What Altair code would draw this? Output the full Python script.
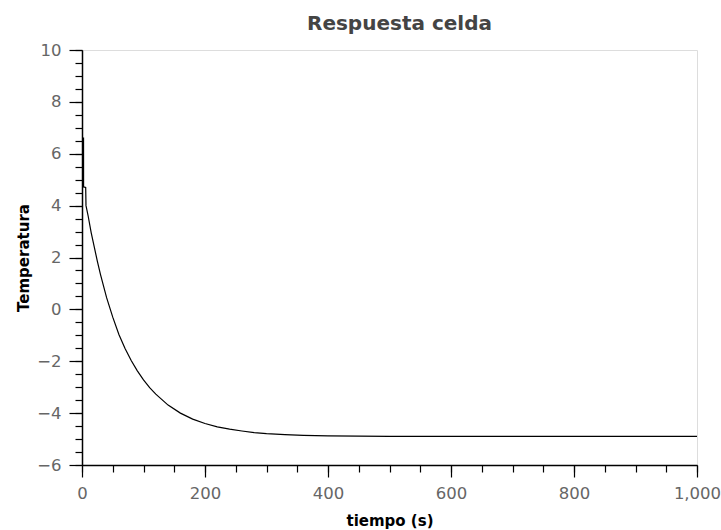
import altair as alt
import pandas as pd

# Values
tiempo = [0, 2.5, 2.6, 6, 6.5, 10, 15, 20, 25, 30, 40, 50, 60, 70, 80, 90, 100,
          110, 120, 140, 160, 180, 200, 220, 240, 260, 280, 300, 330, 360, 400,
          500, 600, 700, 800, 900, 1000]
temperatura = [6.6, 6.6, 4.72, 4.7, 4.0, 3.6, 2.95, 2.4, 1.85, 1.35, 0.45, -0.3,
               -0.97, -1.51, -1.97, -2.37, -2.72, -3.02, -3.27, -3.69, -4.0,
               -4.23, -4.4, -4.53, -4.62, -4.69, -4.75, -4.79, -4.83, -4.86,
               -4.88, -4.9, -4.9, -4.9, -4.9, -4.9, -4.9]

x_major = list(range(0, 1001, 200))
x_minor = list(range(0, 1001, 50))
y_major = list(range(-6, 11, 2))
y_minor = [v / 2 for v in range(-12, 21)]

df = pd.DataFrame({"tiempo": tiempo, "temperatura": temperatura})

label_color = "#666666"
common = dict(
    labelFlush=False,
    labelOverlap=False,
    grid=False,
    domainColor="black",
    domainWidth=1.5,
    tickColor="black",
    tickWidth=1.2,
    labelColor=label_color,
    labelFont="DejaVu Sans",
    labelFontSize=16.5,
    titleFont="DejaVu Sans",
    titleFontSize=15,
    titleFontWeight="bold",
    titleColor="black",
)

x_scale = alt.Scale(domain=[0, 1000], nice=False)
y_scale = alt.Scale(domain=[-6, 10], nice=False)

major = alt.Chart(df).mark_line(color="black", strokeWidth=1.2).encode(
    x=alt.X("tiempo:Q", scale=x_scale,
            axis=alt.Axis(title="tiempo (s)", values=x_major, format=",~f",
                          tickSize=12, labelPadding=8, titlePadding=12,
                          orient="bottom", **common)),
    y=alt.Y("temperatura:Q", scale=y_scale,
            axis=alt.Axis(title="Temperatura", values=y_major, format="~f",
                          tickSize=13, labelPadding=8, titlePadding=5,
                          orient="left", **common)),
)

minor = alt.Chart(df).mark_line(strokeOpacity=0).encode(
    x=alt.X("tiempo:Q", scale=x_scale,
            axis=alt.Axis(title=None, values=x_minor, labels=False, domain=False,
                          tickSize=7, tickColor="black", tickWidth=1.2,
                          grid=False, orient="bottom")),
    y=alt.Y("temperatura:Q", scale=y_scale,
            axis=alt.Axis(title=None, values=y_minor, labels=False, domain=False,
                          tickSize=7, tickColor="black", tickWidth=1.2,
                          grid=False, orient="left")),
)

chart = (
    alt.layer(major, minor)
    .resolve_axis(x="independent", y="independent")
    .properties(
        width=615,
        height=415,
        title=alt.TitleParams(
            "Respuesta celda",
            font="DejaVu Sans",
            fontSize=20,
            fontWeight="bold",
            color="#444444",
            anchor="middle",
            dx=10,
            offset=8,
        ),
        autosize=alt.AutoSizeParams(type="none"),
        padding={"left": 82, "top": 50, "right": 24, "bottom": 65},
    )
    .configure_view(stroke=None)
    .configure(background="white")
)

chart.save("out.html", embed_options={"renderer": "svg", "actions": False})
